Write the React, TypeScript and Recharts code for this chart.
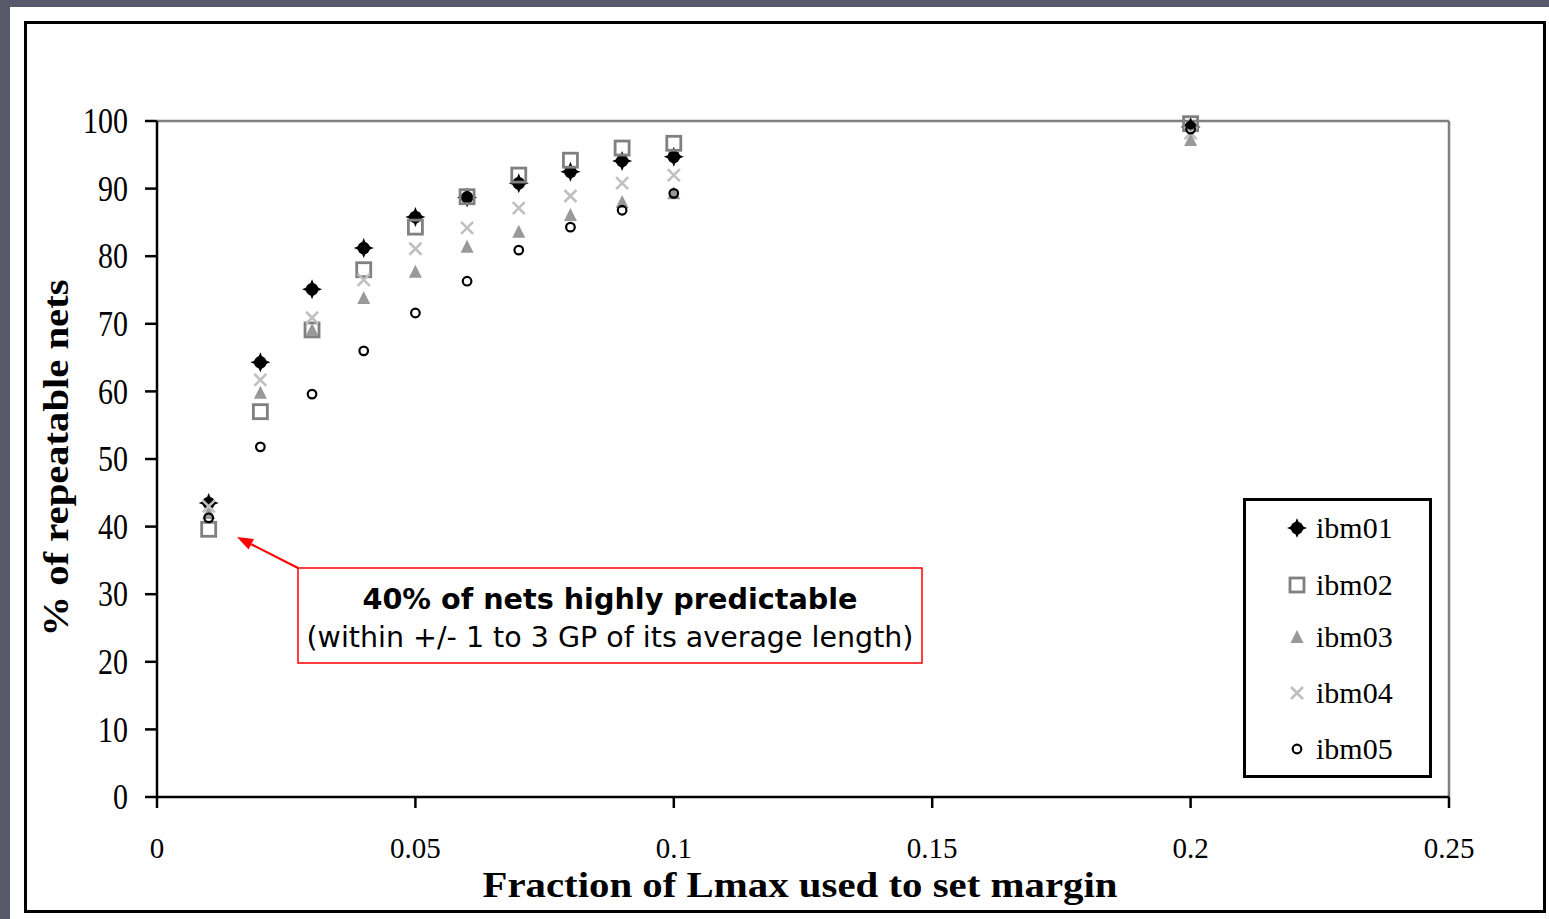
import React from 'react';
import { ScatterChart, Scatter, XAxis, YAxis, ReferenceLine, ReferenceArea, Legend } from 'recharts';

// ---- data ----
const fractions = [0.01, 0.02, 0.03, 0.04, 0.05, 0.06, 0.07, 0.08, 0.09, 0.1, 0.2];
const ibm01 = [43.5, 64.3, 75.1, 81.2, 85.8, 88.7, 90.8, 92.5, 94.1, 94.7, 99.1];
const ibm02 = [39.6, 57.0, 69.1, 78.0, 84.3, 88.8, 92.0, 94.2, 96.0, 96.7, 99.6];
const ibm03 = [42.0, 59.8, 69.1, 73.8, 77.7, 81.4, 83.6, 86.1, 88.0, 89.3, 97.2];
const ibm04 = [43.0, 61.7, 70.9, 76.5, 81.1, 84.2, 87.1, 88.9, 90.8, 92.0, 98.2];
const ibm05 = [41.3, 51.8, 59.6, 66.0, 71.6, 76.3, 80.9, 84.3, 86.8, 89.3, 98.8];

const xTicks = [0, 0.05, 0.1, 0.15, 0.2, 0.25];
const xTickLabels = ['0', '0.05', '0.1', '0.15', '0.2', '0.25'];
const yTicks = [0, 10, 20, 30, 40, 50, 60, 70, 80, 90, 100];

const xTitle = 'Fraction of Lmax used to set margin';
const yTitle = '% of repeatable nets';
const noteLine1 = '40% of nets highly predictable';
const noteLine2 = '(within +/- 1 to 3 GP of its average length)';
// annotation box corners and arrow tip, in data units
const noteBox = { x1: 0.02728, x2: 0.14803, y1: 19.82, y2: 33.88 };
const arrowTip = { x: 0.01548, y: 38.46 };

const SERIF = '"Liberation Serif", "Times New Roman", serif';
const SANS = '"DejaVu Sans", Verdana, sans-serif';

// ---- markers ----
const DiamondMark = ({ cx, cy }: any) => (
  <g>
    <circle cx={cx} cy={cy} r={6.3} fill="#000" />
    <polygon points={`${cx},${cy - 10} ${cx + 4},${cy} ${cx},${cy + 10} ${cx - 4},${cy}`} fill="#000" />
    <polygon points={`${cx - 10},${cy} ${cx},${cy - 4} ${cx + 10},${cy} ${cx},${cy + 4}`} fill="#000" />
  </g>
);
const SquareMark = ({ cx, cy }: any) => (
  <rect x={cx - 7} y={cy - 7} width={14} height={14} fill="none" stroke="#808080" strokeWidth={2.8} />
);
const TriangleMark = ({ cx, cy }: any) => (
  <polygon points={`${cx},${cy - 7} ${cx + 6.5},${cy + 6} ${cx - 6.5},${cy + 6}`} fill="#999999" />
);
const CrossMark = ({ cx, cy }: any) => (
  <g stroke="#c0c0c0" strokeWidth={2.6}>
    <line x1={cx - 6} y1={cy - 6} x2={cx + 6} y2={cy + 6} />
    <line x1={cx - 6} y1={cy + 6} x2={cx + 6} y2={cy - 6} />
  </g>
);
const CircleMark = ({ cx, cy }: any) => (
  <circle cx={cx} cy={cy} r={4.3} fill="none" stroke="#000" strokeWidth={2.2} />
);

const series = [
  { name: 'ibm01', values: ibm01, Mark: DiamondMark },
  { name: 'ibm02', values: ibm02, Mark: SquareMark },
  { name: 'ibm03', values: ibm03, Mark: TriangleMark },
  { name: 'ibm04', values: ibm04, Mark: CrossMark },
  { name: 'ibm05', values: ibm05, Mark: CircleMark },
];

// ---- ticks ----
const XTick = ({ x, y, payload }: any) => {
  const i = xTicks.indexOf(payload.value);
  const label = i >= 0 ? xTickLabels[i] : String(payload.value);
  return (
    <text x={x} y={y + 24} textAnchor="middle" fontFamily={SERIF} fontSize={29} fill="#000">
      {label}
    </text>
  );
};
const YTick = ({ x, y, payload }: any) => (
  <g transform={`translate(${x},${y}) scale(1,1.2)`}>
    <text x={0} y={10.2} textAnchor="end" fontFamily={SERIF} fontSize={30} fill="#000">
      {String(payload.value)}
    </text>
  </g>
);

// ---- annotation ----
const NoteLabel = (props: any) => {
  const vb = props.viewBox || {};
  const cx = vb.x + vb.width / 2;
  return (
    <g>
      <text x={cx} y={vb.y + 41} textAnchor="middle" fontFamily={SANS} fontWeight="bold" fontSize={29}
        textLength={495} lengthAdjust="spacingAndGlyphs" fill="#000">{noteLine1}</text>
      <text x={cx} y={vb.y + 79} textAnchor="middle" fontFamily={SANS} fontSize={28}
        textLength={607} lengthAdjust="spacingAndGlyphs" fill="#000">{noteLine2}</text>
    </g>
  );
};

const ArrowShape = (props: any) => {
  const { x1, y1, x2, y2 } = props;
  const ang = Math.atan2(y2 - y1, x2 - x1);
  const len = 16;
  const half = 6;
  const bx = x2 - len * Math.cos(ang);
  const by = y2 - len * Math.sin(ang);
  const px = -Math.sin(ang) * half;
  const py = Math.cos(ang) * half;
  return (
    <g>
      <line x1={x1} y1={y1} x2={bx} y2={by} stroke="#ff0000" strokeWidth={2.2} />
      <polygon points={`${x2},${y2} ${bx + px},${by + py} ${bx - px},${by - py}`} fill="#ff0000" />
    </g>
  );
};

// ---- legend ----
const legendRows = [30, 87, 139, 195, 251];
const LegendBox = () => (
  <svg width={189} height={280} style={{ display: 'block' }}>
    <rect x={1.5} y={1.5} width={186} height={277} fill="#fff" stroke="#000" strokeWidth={3} />
    {series.map((s, i) => (
      <g key={s.name}>
        <s.Mark cx={54} cy={legendRows[i]} />
        <text x={73} y={legendRows[i] + 10} fontFamily={SERIF} fontSize={30} fill="#000">{s.name}</text>
      </g>
    ))}
  </svg>
);

export default function App() {
  return (
    <div style={{ position: 'absolute', left: 0, top: 0, width: 1549, height: 919, background: '#585a6b', overflow: 'hidden' }}>
      <div style={{ position: 'absolute', left: 10, top: 7, right: 0, bottom: 0, background: '#fff' }} />
      <div style={{ position: 'absolute', left: 24, top: 21, width: 1522, height: 892, border: '3px solid #000', boxSizing: 'border-box' }} />
      <div style={{ position: 'absolute', left: 0, top: 0 }}>
        <ScatterChart width={1549} height={919} margin={{ top: 121, right: 100, bottom: 62, left: 57 }}>
          <XAxis type="number" dataKey="x" domain={[0, 0.25]} ticks={xTicks} height={60}
            axisLine={{ stroke: '#000', strokeWidth: 2.5 }} tickLine={{ stroke: '#000', strokeWidth: 2.5 }}
            tickSize={11} tickMargin={26} tick={<XTick />} interval={0} allowDecimals />
          <YAxis type="number" dataKey="y" domain={[0, 100]} ticks={yTicks} width={100}
            axisLine={{ stroke: '#000', strokeWidth: 2.5 }} tickLine={{ stroke: '#000', strokeWidth: 2.5 }}
            tickSize={12} tickMargin={17} tick={<YTick />} interval={0} />
          <ReferenceLine y={100} stroke="#808080" strokeWidth={2.5} />
          <ReferenceLine x={0.25} stroke="#808080" strokeWidth={2.5} />
          <ReferenceArea x1={noteBox.x1} x2={noteBox.x2} y1={noteBox.y1} y2={noteBox.y2}
            fill="#fff" fillOpacity={1} stroke="#ff0000" strokeWidth={1.5} label={NoteLabel} />
          <ReferenceLine segment={[{ x: noteBox.x1, y: noteBox.y2 }, { x: arrowTip.x, y: arrowTip.y }]}
            shape={ArrowShape} />
          {series.map((s) => (
            <Scatter key={s.name} name={s.name} data={fractions.map((x, i) => ({ x, y: s.values[i] }))}
              shape={(p: any) => <s.Mark cx={p.cx} cy={p.cy} />} isAnimationActive={false} />
          ))}
          <Legend layout="horizontal" verticalAlign="middle" align="center" content={() => <LegendBox />}
            wrapperStyle={{ position: 'absolute', left: 1243, top: 498, width: 189, height: 280 }} />
        </ScatterChart>
      </div>
      <svg style={{ position: 'absolute', left: 0, top: 0 }} width={1549} height={919} pointerEvents="none">
        <text x={800} y={897} textAnchor="middle" fontFamily={SERIF} fontWeight="bold" fontSize={36}
          textLength={635} lengthAdjust="spacingAndGlyphs" fill="#000">{xTitle}</text>
        <text transform="translate(68,458) rotate(-90)" x={0} y={0} textAnchor="middle" fontFamily={SERIF}
          fontWeight="bold" fontSize={36} textLength={357} lengthAdjust="spacingAndGlyphs" fill="#000">{yTitle}</text>
      </svg>
    </div>
  );
}
